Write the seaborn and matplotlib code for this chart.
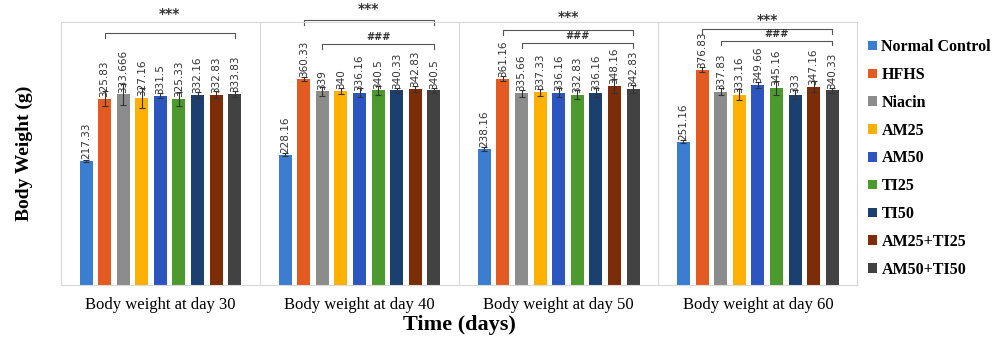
import matplotlib
matplotlib.use("Agg")
import matplotlib.pyplot as plt
import seaborn as sns
import pandas as pd

days = ["Body weight at day 30", "Body weight at day 40",
        "Body weight at day 50", "Body weight at day 60"]
groups = ["Normal Control", "HFHS", "Niacin", "AM25", "AM50",
          "TI25", "TI50", "AM25+TI25", "AM50+TI50"]
colors = ["#3b7dd0", "#e35b20", "#8c8c8c", "#ffb000", "#2d55bf",
          "#4c9a2e", "#1b3f6e", "#7d2c08", "#424242"]

day30 = [217.33, 325.83, 333.666, 327.16, 331.5, 325.33, 332.16, 332.83, 333.83]
day40 = [228.16, 360.33, 339, 340, 336.16, 340.5, 340.33, 342.83, 340.5]
day50 = [238.16, 361.16, 335.66, 337.33, 336.16, 332.83, 336.16, 348.16, 342.83]
day60 = [251.16, 376.83, 337.83, 333.16, 349.66, 345.16, 333, 347.16, 340.33]

err30 = [2, 13, 18, 18, 5, 12, 5, 6, 5]
err40 = [3, 4, 8, 5, 8, 8, 4, 6, 4]
err50 = [3, 4, 6, 6, 8, 8, 8, 12, 7]
err60 = [3, 4, 6, 10, 5, 12, 8, 10, 4]

labels30 = ["217.33", "325.83", "333.666", "327.16", "331.5", "325.33", "332.16", "332.83", "333.83"]
labels40 = ["228.16", "360.33", "339", "340", "336.16", "340.5", "340.33", "342.83", "340.5"]
labels50 = ["238.16", "361.16", "335.66", "337.33", "336.16", "332.83", "336.16", "348.16", "342.83"]
labels60 = ["251.16", "376.83", "337.83", "333.16", "349.66", "345.16", "333", "347.16", "340.33"]

values = [day30, day40, day50, day60]
errors = [err30, err40, err50, err60]
labels = [labels30, labels40, labels50, labels60]

rows = []
for d, vals, errs in zip(days, values, errors):
    for g, v, e in zip(groups, vals, errs):
        rows.append({"day": d, "group": g, "weight": v, "err": e})
df = pd.DataFrame(rows)

serif = ["Liberation Serif", "DejaVu Serif"]

fig = plt.figure(figsize=(9.97, 3.37), dpi=100)
ax = fig.add_axes([0.061, 0.153, 0.799, 0.782])

sns.barplot(data=df, x="day", y="weight", hue="group", palette=colors,
            hue_order=groups, order=days, errorbar=None, width=0.84,
            gap=0.3, saturation=1, ax=ax, legend=True)

# error bars and value labels
for gi, g in enumerate(groups):
    cont = ax.containers[gi]
    for di, bar in enumerate(cont):
        x = bar.get_x() + bar.get_width() / 2
        h = bar.get_height()
        e = errors[di][gi]
        ax.errorbar(x, h, yerr=e, color="#333333", lw=0.8, capsize=2, capthick=0.8)
        ax.text(x, h + 3, labels[di][gi], rotation=90, ha="center", va="bottom",
                fontsize=7.5, color="#333333")

# significance brackets
def bracket(x0, x1, y, text, ty, size):
    ax.plot([x0, x0, x1, x1], [y - 8, y, y, y - 8], color="#555555", lw=0.8,
            clip_on=False)
    ax.text((x0 + x1) / 2, ty, text, ha="center", va="center", fontsize=size,
            fontweight="bold", color="#333333", clip_on=False)

def xpos(di, gi):
    bar = ax.containers[gi][di]
    return bar.get_x() + bar.get_width() / 2

bracket(xpos(0, 1), xpos(0, 8), 440, "***", 474, 10)
bracket(xpos(1, 1), xpos(1, 8), 463, "***", 482, 10)
bracket(xpos(1, 2), xpos(1, 8), 421, "###", 434, 7)
bracket(xpos(2, 1), xpos(2, 8), 446, "***", 468, 10)
bracket(xpos(2, 2), xpos(2, 8), 423, "###", 436, 7)
bracket(xpos(3, 1), xpos(3, 8), 447, "***", 464, 10)
bracket(xpos(3, 2), xpos(3, 8), 427, "###", 439, 7)

ax.set_ylim(0, 460)
ax.set_xlim(-0.5, 3.5)
ax.set_yticks([])
for xv in [0.5, 1.5, 2.5]:
    ax.axvline(xv, color="#d9d9d9", lw=0.8)
for s in ax.spines.values():
    s.set_color("#d9d9d9")
    s.set_linewidth(0.8)
ax.tick_params(axis="x", length=0, pad=8)
for t in ax.get_xticklabels():
    t.set_family(serif)
    t.set_fontsize(12)

ax.set_xlabel("Time (days)", family=serif, fontsize=16, fontweight="bold", labelpad=2)
ax.set_ylabel("Body Weight (g)", family=serif, fontsize=14, fontweight="bold", labelpad=20)

ax.legend(loc="upper left", bbox_to_anchor=(0.993, 0.995), frameon=False,
          prop={"family": serif, "weight": "bold", "size": 11.5},
          handlelength=0.55, handleheight=0.55, handletextpad=0.3,
          labelspacing=0.74, borderaxespad=0.6)

fig.savefig("out.png", dpi=100)
